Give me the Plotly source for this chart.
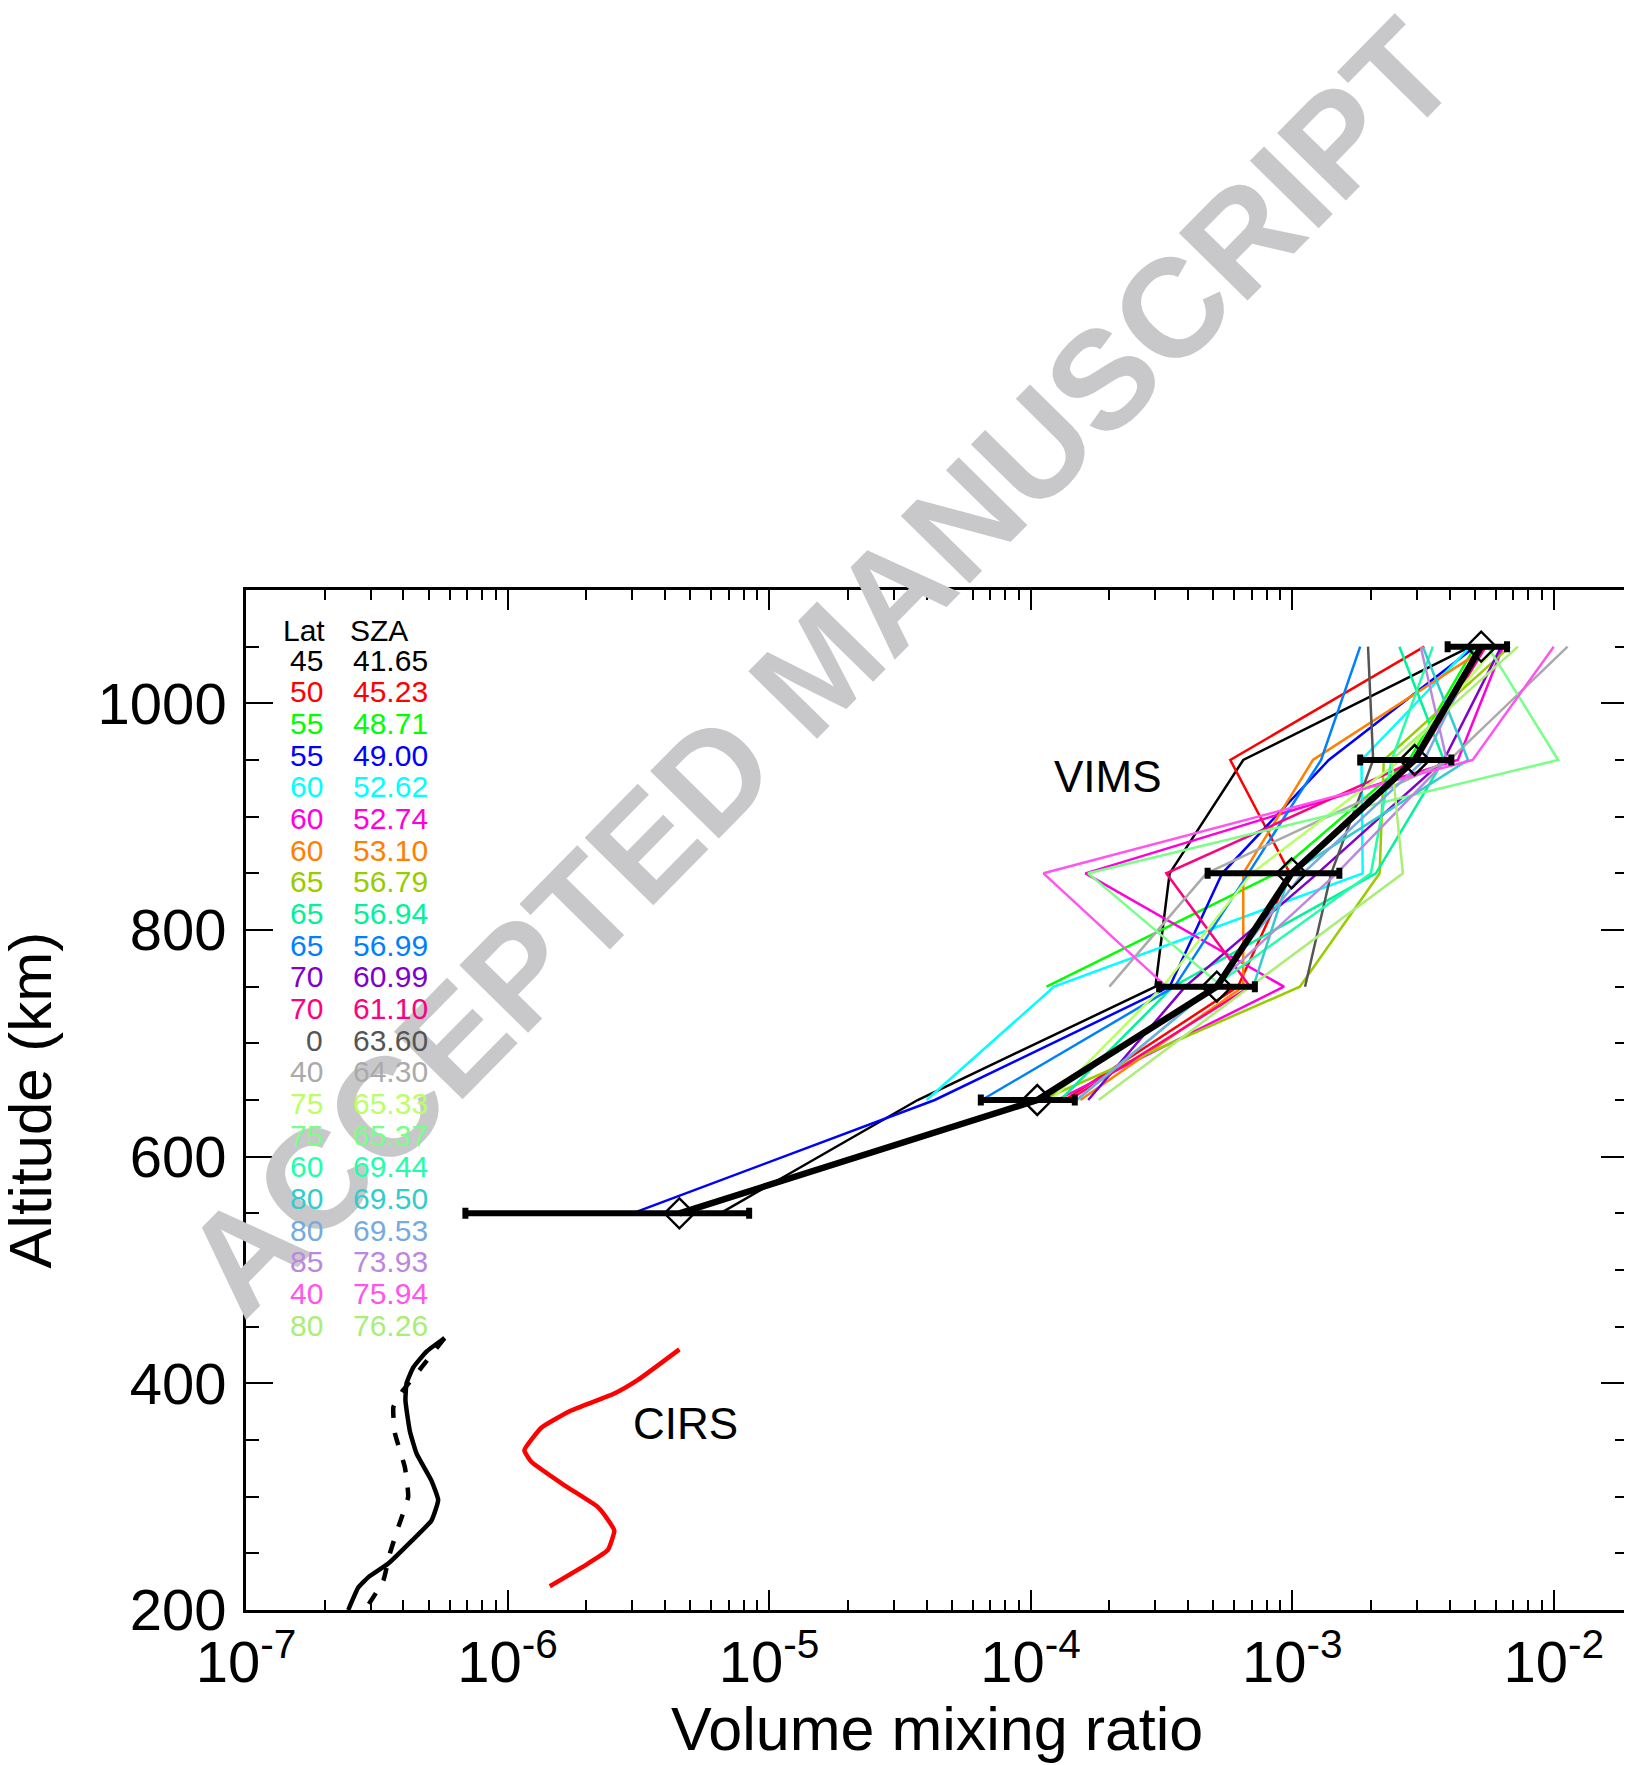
import plotly.graph_objects as go

# ---------------- data ----------------
ALT = [550, 650, 750, 850, 950, 1050]

LAT = ["45", "50", "55", "55", "60", "60", "60", "65", "65", "65", "70",
       "70", "0", "40", "75", "75", "60", "80", "80", "85", "40", "80"]
SZA = ["41.65", "45.23", "48.71", "49.00", "52.62", "52.74", "53.10", "56.79",
       "56.94", "56.99", "60.99", "61.10", "63.60", "64.30", "65.33", "65.37",
       "69.44", "69.50", "69.53", "73.93", "75.94", "76.26"]
COLORS = ["#000000", "#FF0000", "#00FF00", "#0000FF", "#00FFFF", "#FF00DD",
          "#FF8000", "#99CC00", "#00F29A", "#0080FF", "#8000CC", "#FF0080",
          "#555555", "#AAAAAA", "#BBFF66", "#77FF88", "#22FFAA", "#33CCCC",
          "#77AADD", "#BB88DD", "#FF55EE", "#AAEE77"]

# VIMS individual profiles (VMR at ALT; None = no retrieval)
P01 = [6.5e-6, 3.7e-5, 3.0e-4, 3.4e-4, 6.5e-4, 4.8e-3]
P02 = [None, 1.35e-4, 6.2e-4, 9.8e-4, 5.8e-4, 3.2e-3]
P03 = [None, None, 1.15e-4, 8.7e-4, 2.8e-3, 5.0e-3]
P04 = [3.0e-6, 4.3e-5, 3.4e-4, 5.4e-4, 1.38e-3, 5.0e-3]
P05 = [None, 4.0e-5, 1.23e-4, 1.86e-3, 1.84e-3, 4.8e-3]
P06 = [None, 1.26e-4, 9.3e-4, 1.62e-4, 4.3e-3, 6.4e-3]
P07 = [None, 1.55e-4, 6.5e-4, 6.5e-4, 1.2e-3, 5.6e-3]
P08 = [None, 1.1e-4, 1.07e-3, 2.16e-3, 2.24e-3, 6.8e-3]
P09 = [None, 1.3e-4, 3.5e-4, 2.09e-3, 3.8e-3, 2.57e-3]
P10 = [None, 6.5e-5, 3.55e-4, 6.8e-4, 1.29e-3, 1.82e-3]
P11 = [None, 1.66e-4, 3.9e-4, 1.25e-3, 3.8e-3, 6.3e-3]
P12 = [None, 1.4e-4, 6.9e-4, 3.3e-4, 3.0e-3, 5.5e-3]
P13 = [None, None, 1.12e-3, 1.41e-3, 2.04e-3, 1.95e-3]
P14 = [None, None, 2.0e-4, 4.7e-4, 4.0e-3, 1.13e-2]
P15 = [None, 1.2e-4, 3.2e-4, 7.0e-4, 2.6e-3, 6.0e-3]
P16 = [None, None, 5.4e-4, 1.66e-4, 1.04e-2, 5.6e-3]
P17 = [None, 1.5e-4, 5.0e-4, 2.0e-3, 2.4e-3, 3.45e-3]
P18 = [None, None, 7.1e-4, 9.8e-4, 4.7e-3, 3.16e-3]
P19 = [None, 1.5e-4, 5.0e-4, 1.1e-3, 3.2e-3, 5.2e-3]
P20 = [None, None, 5.0e-4, 1.48e-3, 3.9e-3, 3.1e-3]
P21 = [None, None, 3.3e-4, 1.12e-4, 4.9e-3, 1.0e-2]
P22 = [None, 1.82e-4, 6.9e-4, 2.65e-3, 2.4e-3, 7.3e-3]
PROFILES = [P01, P02, P03, P04, P05, P06, P07, P08, P09, P10, P11,
            P12, P13, P14, P15, P16, P17, P18, P19, P20, P21, P22]

# VIMS mean profile with error bars
MEAN_VMR = [4.54e-6, 1.06e-4, 5.15e-4, 9.95e-4, 2.94e-3, 5.28e-3]
MEAN_ERR = [3.85e-6, 4.15e-5, 2.05e-4, 5.2e-4, 1.12e-3, 1.35e-3]

# CIRS profile (red)
CIRS_ALT = [430, 403, 391, 376, 361, 341, 331, 310, 291, 279, 270, 253, 241, 221]
CIRS_VMR = [4.54e-6, 3.15e-6, 2.56e-6, 1.75e-6, 1.35e-6, 1.16e-6, 1.23e-6,
            1.65e-6, 2.21e-6, 2.43e-6, 2.56e-6, 2.42e-6, 2.03e-6, 1.45e-6]

# Black solid model profile
SOLID_ALT = [440, 428, 414, 400, 385, 358, 338, 314, 297, 279, 261, 241, 229, 220, 200]
SOLID_VMR = [5.75e-7, 4.9e-7, 4.36e-7, 4.11e-7, 4.07e-7, 4.23e-7, 4.49e-7,
             5.12e-7, 5.43e-7, 5.12e-7, 4.30e-7, 3.50e-7, 2.94e-7, 2.69e-7, 2.46e-7]

# Black dashed model profile
DASH_ALT = [440, 414, 394, 379, 356, 326, 300, 273, 250, 226, 200]
DASH_VMR = [5.74e-7, 4.69e-7, 3.99e-7, 3.66e-7, 3.71e-7, 4.05e-7, 4.17e-7,
            3.82e-7, 3.55e-7, 3.35e-7, 2.85e-7]

X_TICKS = [1e-7, 1e-6, 1e-5, 1e-4, 1e-3, 1e-2]
X_TICKTEXT = ["10<sup>-7</sup>", "10<sup>-6</sup>", "10<sup>-5</sup>",
              "10<sup>-4</sup>", "10<sup>-3</sup>", "10<sup>-2</sup>"]

# ---------------- layout geometry ----------------
OFFX, OFFY = 6, 8            # page body offset of the html page
W, H = 1632 - OFFX, 1765 - OFFY
L, R, T, B = 244 - OFFX, 3, 590 - OFFY, 155
PW, PH = W - L - R, H - T - B
FONT = "Liberation Sans, Arial, Helvetica, sans-serif"


def px(x):
    """page x pixel -> paper fraction"""
    return (x - OFFX - L) / PW


def py(y):
    """page y pixel -> paper fraction"""
    return (H - B - (y - OFFY)) / PH


fig = go.Figure()

for prof, col in zip(PROFILES, COLORS):
    xs = [v for v in prof if v is not None]
    ys = [a for a, v in zip(ALT, prof) if v is not None]
    fig.add_trace(go.Scatter(x=xs, y=ys, mode="lines",
                             line=dict(color=col, width=2.5),
                             showlegend=False, hoverinfo="skip"))

fig.add_trace(go.Scatter(x=MEAN_VMR, y=ALT, mode="lines",
                         line=dict(color="black", width=6.5),
                         showlegend=False))
fig.add_trace(go.Scatter(x=MEAN_VMR, y=ALT, mode="markers",
                         marker=dict(symbol="diamond-open", size=23, color="black",
                                     line=dict(width=2.4, color="black")),
                         error_x=dict(type="data", array=MEAN_ERR, visible=True,
                                      color="black", thickness=6, width=5.5),
                         showlegend=False))

fig.add_trace(go.Scatter(x=CIRS_VMR, y=CIRS_ALT, mode="lines",
                         line=dict(color="#FF0000", width=4.5, shape="spline", smoothing=0.4),
                         showlegend=False))
fig.add_trace(go.Scatter(x=SOLID_VMR, y=SOLID_ALT, mode="lines",
                         line=dict(color="black", width=4.5, shape="spline", smoothing=0.4),
                         showlegend=False))
fig.add_trace(go.Scatter(x=DASH_VMR, y=DASH_ALT, mode="lines",
                         line=dict(color="black", width=4.5, dash="13px,15px",
                                   shape="spline", smoothing=0.4),
                         showlegend=False))

# ---------------- annotations ----------------
ann = []
# watermark first so that the other texts lie on top of it
ann.append(dict(x=px(818), y=py(667), xref="paper", yref="paper",
                text="<b>ACCEPTED MANUSCRIPT</b>", showarrow=False, textangle=-45.5,
                xanchor="center", yanchor="middle",
                font=dict(size=140, color="#C8C8CA", family=FONT)))

# legend table
ann.append(dict(x=px(279), y=py(630), xref="paper", yref="paper", text="Lat",
                showarrow=False, xanchor="left", yanchor="middle",
                font=dict(size=30, color="black", family=FONT)))
ann.append(dict(x=px(346), y=py(630), xref="paper", yref="paper", text="SZA",
                showarrow=False, xanchor="left", yanchor="middle",
                font=dict(size=30, color="black", family=FONT)))
for i, (la, sz, col) in enumerate(zip(LAT, SZA, COLORS)):
    yy = 660 + i * 31.67
    ann.append(dict(x=px(323), y=py(yy), xref="paper", yref="paper", text=la,
                    showarrow=False, xanchor="right", yanchor="middle",
                    font=dict(size=30, color=col, family=FONT)))
    ann.append(dict(x=px(349), y=py(yy), xref="paper", yref="paper", text=sz,
                    showarrow=False, xanchor="left", yanchor="middle",
                    font=dict(size=30, color=col, family=FONT)))

ann.append(dict(x=px(1108), y=py(776), xref="paper", yref="paper", text="VIMS",
                showarrow=False, xanchor="center", yanchor="middle",
                font=dict(size=44, color="black", family=FONT)))
ann.append(dict(x=px(684), y=py(1423), xref="paper", yref="paper", text="CIRS",
                showarrow=False, xanchor="center", yanchor="middle",
                font=dict(size=44, color="black", family=FONT)))

# axis titles
ann.append(dict(x=px(937), y=py(1729), xref="paper", yref="paper",
                text="Volume mixing ratio", showarrow=False,
                xanchor="center", yanchor="middle",
                font=dict(size=61, color="black", family=FONT)))
ann.append(dict(x=px(28), y=py(1100), xref="paper", yref="paper",
                text="Altitude (km)", showarrow=False, textangle=-90,
                xanchor="center", yanchor="middle",
                font=dict(size=60, color="black", family=FONT)))

minor_x = []
for d in range(-7, -1):
    for m in range(2, 10):
        minor_x.append(m * 10 ** d)

fig.update_layout(
    width=W, height=H,
    margin=dict(l=L, r=R, t=T, b=B, pad=0),
    paper_bgcolor="white", plot_bgcolor="white",
    showlegend=False,
    annotations=ann,
    xaxis=dict(type="log", range=[-7, -1.716], showgrid=False, zeroline=False,
               showline=True, linecolor="black", linewidth=2.5, mirror="allticks",
               ticks="inside", ticklen=20, tickwidth=2, tickcolor="black",
               tickmode="array", tickvals=X_TICKS, ticktext=X_TICKTEXT,
               tickfont=dict(size=58, color="black", family=FONT),
               ticklabelstandoff=0,
               minor=dict(ticks="inside", ticklen=10, tickwidth=2, tickcolor="black",
                          tickmode="array", tickvals=minor_x, showgrid=False)),
    yaxis=dict(range=[200, 1100], showgrid=False, zeroline=False,
               showline=True, linecolor="black", linewidth=2.5, mirror="allticks",
               ticks="inside", ticklen=27, tickwidth=2, tickcolor="black",
               tickmode="linear", tick0=200, dtick=200,
               tickfont=dict(size=58, color="black", family=FONT),
               ticklabelstandoff=5,
               minor=dict(ticks="inside", ticklen=13, tickwidth=2, tickcolor="black",
                          tickmode="linear", tick0=200, dtick=50, showgrid=False)),
)

fig.write_html("out.html")
